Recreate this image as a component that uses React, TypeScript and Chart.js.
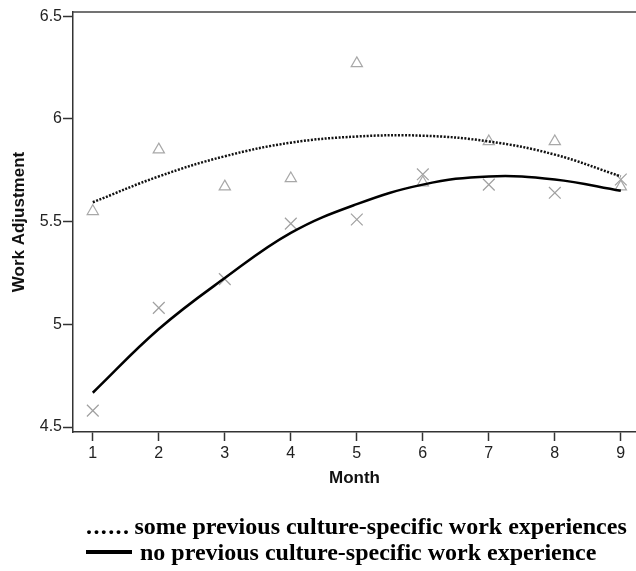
import React, { useEffect, useRef } from "react";
import { Chart, registerables } from "chart.js";

Chart.register(...registerables);

const months = [1, 2, 3, 4, 5, 6, 7, 8, 9];
const someExpPoints = [5.55, 5.85, 5.67, 5.71, 6.27, 5.69, 5.89, 5.89, 5.67];
const noExpPoints = [4.58, 5.08, 5.22, 5.49, 5.51, 5.73, 5.68, 5.64, 5.705];
const someExpFit = [5.594, 5.72, 5.818, 5.884, 5.914, 5.918, 5.89, 5.826, 5.72];
const noExpFit = [4.667, 4.977, 5.225, 5.445, 5.585, 5.68, 5.72, 5.705, 5.65];
const yTicks = [4.5, 5, 5.5, 6, 6.5];
const legendDots = "......";
const legendSome = "some previous culture-specific work experiences";
const legendNo = "no previous culture-specific work experience";

const toXY = (ys: number[]) => months.map((m, i) => ({ x: m, y: ys[i] }));

const topBorder = {
  id: "topBorder",
  afterDraw(chart: any) {
    const { ctx, chartArea } = chart;
    ctx.save();
    ctx.strokeStyle = "#444";
    ctx.lineWidth = 1.5;
    ctx.beginPath();
    ctx.moveTo(chartArea.left, chartArea.top);
    ctx.lineTo(chartArea.right, chartArea.top);
    ctx.stroke();
    ctx.restore();
  },
};

export default function App() {
  const ref = useRef<HTMLCanvasElement>(null);
  useEffect(() => {
    const chart = new Chart(ref.current!, {
      type: "scatter",
      data: {
        datasets: [
          {
            label: "some fit",
            type: "line",
            data: toXY(someExpFit),
            borderColor: "#111",
            borderWidth: 2.5,
            borderDash: [2, 1.5],
            tension: 0.4,
            pointRadius: 0,
            fill: false,
          },
          {
            label: "no fit",
            type: "line",
            data: toXY(noExpFit),
            borderColor: "#000",
            borderWidth: 2.5,
            tension: 0.4,
            pointRadius: 0,
            fill: false,
          },
          {
            label: "some",
            data: toXY(someExpPoints),
            pointStyle: "triangle",
            pointRadius: 6.5,
            borderColor: "#a8a8a8",
            backgroundColor: "rgba(0,0,0,0)",
            borderWidth: 1.2,
          },
          {
            label: "no",
            data: toXY(noExpPoints),
            pointStyle: "crossRot",
            pointRadius: 8.3,
            borderColor: "#a0a0a0",
            borderWidth: 1.2,
          },
        ],
      },
      options: {
        animation: false,
        responsive: false,
        layout: { autoPadding: false, padding: { top: 12, right: 0, left: 0, bottom: 79 } },
        plugins: { legend: { display: false }, tooltip: { enabled: false } },
        scales: {
          x: {
            type: "linear",
            min: 0.7,
            max: 9.23,
            afterFit: (s: any) => {
              s.height = 60;
              s.paddingRight = 0;
              s.paddingLeft = 0;
            },
            afterBuildTicks: (s: any) => {
              s.ticks = months.map((v) => ({ value: v }));
            },
            grid: {
              display: true,
              drawOnChartArea: false,
              drawTicks: true,
              tickLength: 9,
              tickColor: "#333",
              tickWidth: 1.5,
            },
            border: { display: true, color: "#333", width: 1.5 },
            ticks: {
              color: "#222",
              padding: 3,
              font: { family: "Liberation Sans, Arial", size: 16 },
              callback: (v: any) => String(v),
            },
            title: {
              display: true,
              text: "Month",
              color: "#111",
              font: { family: "Liberation Sans, Arial", size: 17, weight: "bold" },
              padding: { top: 0, bottom: 3.8 },
            },
          },
          y: {
            type: "linear",
            min: 4.476,
            max: 6.52,
            afterFit: (s: any) => {
              s.width = 73;
              s.paddingTop = 0;
              s.paddingBottom = 0;
            },
            afterBuildTicks: (s: any) => {
              s.ticks = yTicks.map((v) => ({ value: v }));
            },
            grid: {
              display: true,
              drawOnChartArea: false,
              drawTicks: true,
              tickLength: 10,
              tickColor: "#333",
              tickWidth: 1.5,
            },
            border: { display: true, color: "#333", width: 1.5 },
            ticks: {
              color: "#222",
              padding: 1,
              font: { family: "Liberation Sans, Arial", size: 16 },
              callback: (v: any) => String(v),
            },
            title: {
              display: true,
              text: "Work Adjustment",
              color: "#111",
              font: { family: "Liberation Sans, Arial", size: 17, weight: "bold" },
              padding: { top: 8.8, bottom: 0 },
            },
          },
        },
      },
      plugins: [topBorder],
    });
    return () => chart.destroy();
  }, []);

  const legendFont: React.CSSProperties = {
    position: "absolute",
    left: 86,
    fontFamily: "'Liberation Serif', 'Times New Roman', serif",
    fontWeight: "bold",
    fontSize: 24,
    lineHeight: "26px",
    color: "#000",
    whiteSpace: "nowrap",
  };

  return (
    <div style={{ position: "absolute", left: 0, top: 0, width: 636, height: 571, background: "#fff" }}>
      <canvas ref={ref} width={636} height={571} style={{ display: "block" }} />
      <div style={{ ...legendFont, top: 513 }}>
        <span style={{ letterSpacing: 1.4, marginRight: 4 }}>{legendDots}</span>
        {legendSome}
      </div>
      <div style={{ ...legendFont, top: 539 }}>
        <span
          style={{
            display: "inline-block",
            width: 46,
            height: 4,
            background: "#000",
            verticalAlign: "middle",
            marginRight: 8,
            position: "relative",
            top: -2,
          }}
        />
        {legendNo}
      </div>
    </div>
  );
}
